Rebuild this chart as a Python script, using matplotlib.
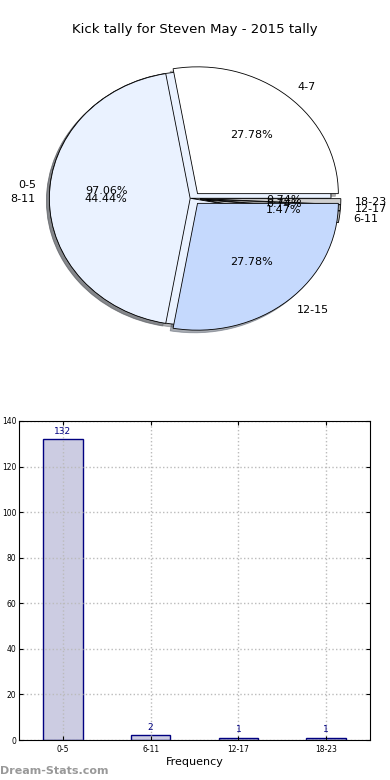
import numpy as np
import matplotlib
matplotlib.use("Agg")
import matplotlib.pyplot as plt

# data
title = "Kick tally for Steven May - 2015 tally"
freq_labels = ["0-5", "6-11", "12-17", "18-23"]
freq_counts = [132, 2, 1, 1]
kick_labels = ["4-7", "8-11", "12-15"]
kick_counts = [5, 8, 5]

fig = plt.figure(figsize=(3.9, 7.8), dpi=100)
fig.text(0.5, 1 - 30 / 780., title, ha="center", va="center", fontsize=9.5)

# pie area (two pies drawn on top of each other)
shadow = {"ox": -0.015, "oy": -0.015, "shade": 0.6}
ax1 = fig.add_axes([17 / 390., 1 - 357 / 780., 352 / 390., 317 / 780.])
ax1.pie(freq_counts, labels=freq_labels, autopct="%1.2f%%",
        colors=["#eaf2ff", "#c0c0c0", "#a0a0a0", "#d0d0d0"],
        explode=[0.02, 0.05, 0.05, 0.05], shadow=shadow, startangle=0,
        wedgeprops=dict(edgecolor="black", linewidth=0.6),
        textprops=dict(fontsize=8))
ax1.pie(kick_counts, labels=kick_labels, autopct="%1.2f%%",
        colors=["#ffffff", "#eaf2ff", "#c5d9fd"],
        explode=[0.05, 0.02, 0.05], shadow=shadow, startangle=0,
        wedgeprops=dict(edgecolor="black", linewidth=0.6),
        textprops=dict(fontsize=8))
ax1.set_aspect("auto")
ax1.set_xlim(-1.25, 1.25)
ax1.set_ylim(-1.25, 1.25)

# bar chart
ax2 = fig.add_axes([19 / 390., 1 - 740 / 780., 351 / 390., 319 / 780.])
x = np.arange(len(freq_labels))
ax2.bar(x, freq_counts, width=0.45, color="#cccce2", edgecolor="navy",
        linewidth=1.0, zorder=1)
for xi, v in zip(x, freq_counts):
    ax2.text(xi, v + 1.5, str(v), ha="center", va="bottom", fontsize=6.5,
             color="navy")
ax2.set_xlim(-0.5, 3.5)
ax2.set_ylim(0, 140)
ax2.set_yticks(np.arange(0, 141, 20))
ax2.set_xticks(x)
ax2.set_xticklabels(freq_labels)
ax2.tick_params(labelsize=5.5, direction="in", length=3)
ax2.tick_params(axis="y", pad=2)
ax2.yaxis.set_ticks_position("both")
ax2.xaxis.set_ticks_position("both")
ax2.grid(True, linestyle=":", color="#bbbbbb", linewidth=1.0)
ax2.set_axisbelow(False)
for sp in ax2.spines.values():
    sp.set_zorder(3)
ax2.set_xlabel("Frequency", fontsize=8, labelpad=2)

fig.text(0.0, 1 - 771 / 780., "Dream-Stats.com", ha="left", va="center",
         fontsize=8, color="#999999", fontweight="bold")

fig.savefig("out.png", dpi=100)
